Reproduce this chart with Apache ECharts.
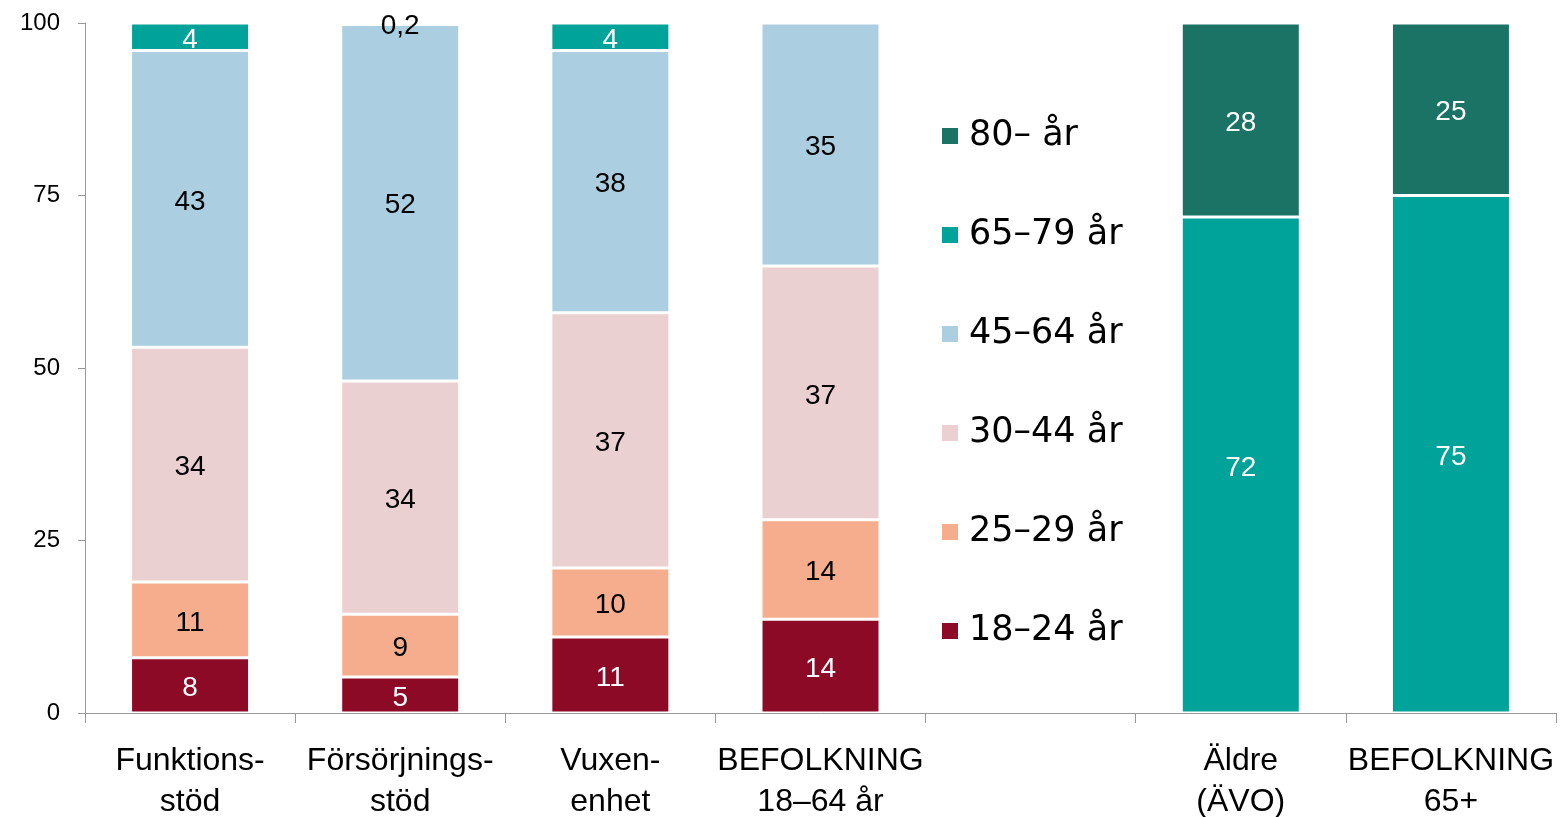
<!DOCTYPE html>
<html>
<head>
<meta charset="utf-8">
<script src="https://cdn.jsdelivr.net/npm/echarts@6/dist/echarts.min.js"></script>
<style>
  html, body { margin: 0; padding: 0; background: #fff; }
  #main { width: 1560px; height: 817px; }
</style>
</head>
<body>
<div id="main"></div>
<script>
// kategorier (tom plats i mitten för legenden)
const categories = ['Funktions-\nstöd', 'Försörjnings-\nstöd', 'Vuxen-\nenhet', 'BEFOLKNING\n18–64 år', '', 'Äldre\n(ÄVO)', 'BEFOLKNING\n65+']
const seriesNames = ['18–24 år', '25–29 år', '30–44 år', '45–64 år', '65–79 år', '80– år']
const colors = ['#8c0a26', '#f5ad8d', '#ebd0d2', '#abcfe0', '#00a39a', '#1b7366']
const labelColors = ['#fff', '#000', '#000', '#000', '#fff', '#fff']

// andel i procent, null = saknas
const age18_24 = [8, 5.2, 11, 13.6, null, null, null]
const age25_29 = [11, 9.1, 10, 14.4, null, null, null]
const age30_44 = [34, 33.8, 37, 36.8, null, null, null]
const age45_64 = [43, 51.7, 38, 35.2, null, null, null]
const age65_79 = [4, 0.2, 4, null, null, 71.9, 75]
const age80 = [null, null, null, null, null, 28.1, 25]
const values = [age18_24, age25_29, age30_44, age45_64, age65_79, age80]

const yTicks = [0, 25, 50, 75, 100]

const chart = echarts.init(document.getElementById('main'))

const fmt = (v) => v < 1 ? String(v).replace('.', ',') : String(Math.round(v))

const series = values.map((arr, i) => ({
  name: seriesNames[i],
  type: 'bar',
  stack: 'total',
  barWidth: 119,
  itemStyle: { color: colors[i], borderColor: '#fff', borderWidth: 1.5 },
  label: {
    show: true,
    position: 'inside',
    offset: [0, 3],
    color: labelColors[i],
    fontSize: 28,
    fontFamily: 'Liberation Sans',
    formatter: (p) => p.value == null ? '' : fmt(p.value)
  },
  data: arr.map(v => (v != null && v < 1) ? { value: v, label: { color: '#000' } } : v)
}))

const option = {
  animation: false,
  textStyle: { fontFamily: 'Liberation Sans' },
  grid: { left: 85, right: 4, top: 23, bottom: 104, containLabel: false, outerBoundsMode: 'none' },
  legend: {
    orient: 'vertical',
    left: 935,
    top: 111,
    data: seriesNames.slice().reverse(),
    icon: 'rect',
    itemWidth: 18,
    itemHeight: 18,
    itemGap: 59,
    textStyle: { fontSize: 35, lineHeight: 40, color: '#000', fontFamily: 'DejaVu Sans', padding: [0, 0, 0, 5] }
  },
  xAxis: {
    type: 'category',
    data: categories,
    axisLine: { lineStyle: { color: '#999' } },
    axisTick: { show: true, length: 10, lineStyle: { color: '#999' } },
    axisLabel: { color: '#000', fontSize: 32, lineHeight: 41, margin: 28, interval: 0 }
  },
  yAxis: {
    type: 'value',
    min: yTicks[0],
    max: yTicks[yTicks.length - 1],
    interval: 25,
    axisLine: { show: true, lineStyle: { color: '#999' } },
    axisTick: { show: true, length: 7, lineStyle: { color: '#999' } },
    splitLine: { show: false },
    axisLabel: { color: '#000', fontSize: 24, margin: 25 }
  },
  series: series
}

option && chart.setOption(option)
</script>
</body>
</html>
